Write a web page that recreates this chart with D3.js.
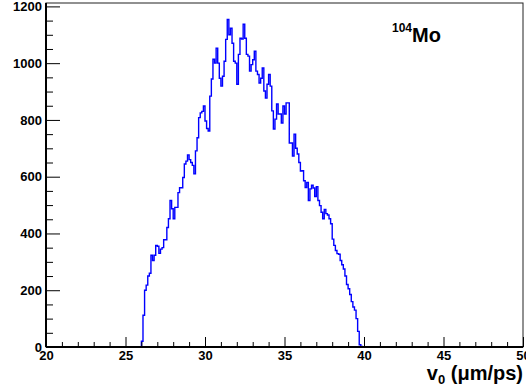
<!DOCTYPE html>
<html>
<head>
<meta charset="utf-8">
<script src="https://cdn.jsdelivr.net/npm/d3@7"></script>
<style>
  html, body { margin: 0; padding: 0; background: #fff; }
  svg { display: block; }
  text { font-family: "Liberation Sans", Arial, Helvetica, sans-serif; font-weight: bold; }
</style>
</head>
<body>
<script>
// ---- data ----
const xRange = [20, 50];
const yRange = [0, 1212];
const binStart = 26.0;      // low edge of first listed bin (µm/ps)
const binWidth = 0.1;       // bin width (µm/ps)
const counts = [
  20, 112, 200, 218, 250, 260, 323, 305, 323, 358,
  355, 330, 345, 350, 378, 378, 421, 452, 516, 487,
  452, 492, 492, 544, 561, 561, 597, 645, 655, 677,
  660, 650, 640, 610, 691, 737, 808, 825, 830, 849,
  796, 770, 761, 884, 944, 1014, 1000, 1053, 1000, 947,
  919, 954, 1007, 1084, 1154, 1100, 1123, 1070, 1007, 1000,
  926, 1031, 1088, 1085, 1137, 1088, 1031, 1025, 972, 995,
  1012, 1042, 972, 960, 930, 947, 983, 902, 877, 926,
  960, 919, 832, 768, 803, 856, 821, 821, 789, 849,
  821, 860, 860, 719, 719, 673, 750, 700, 680, 650,
  620, 621, 586, 562, 580, 516, 557, 570, 560, 530,
  565, 516, 498, 475, 452, 485, 470, 465, 452, 434,
  380, 358, 340, 329, 327, 305, 290, 275, 250, 220,
  205, 185, 160, 141, 130, 100, 55, 8, 2, 0
];
const xTicks = [20, 25, 30, 35, 40, 45, 50];
const yTicks = [0, 200, 400, 600, 800, 1000, 1200];
const xTitle = "v";
const xTitleSub = "0";
const xTitleRest = " (\u03bcm/ps)";
const labelSup = "104";
const labelMain = "Mo";

// ---- layout ----
const W = 526, H = 390;
const frame = { left: 46, right: 523, top: 3, bottom: 347 };

const svg = d3.select("body").append("svg").attr("width", W).attr("height", H);
svg.append("rect").attr("width", W).attr("height", H).attr("fill", "#fff");

const x = d3.scaleLinear().domain(xRange).range([frame.left, frame.right]);
const y = d3.scaleLinear().domain(yRange).range([frame.bottom, frame.top]);

// histogram points (step after)
const pts = [[xRange[0], 0]];
counts.forEach((c, i) => pts.push([binStart + i * binWidth, c]));
pts.push([binStart + counts.length * binWidth, 0]);
pts.push([xRange[1], 0]);

const line = d3.line()
  .x(d => x(d[0]))
  .y(d => y(d[1]))
  .curve(d3.curveStepAfter);

svg.append("path")
  .datum(pts)
  .attr("d", line)
  .attr("fill", "none")
  .attr("stroke", "#0000ff")
  .attr("stroke-width", 1.4);

// frame (top & right)
svg.append("rect")
  .attr("x", frame.left).attr("y", frame.top)
  .attr("width", frame.right - frame.left)
  .attr("height", frame.bottom - frame.top)
  .attr("fill", "none").attr("stroke", "#222").attr("stroke-width", 1);

// y axis minor ticks
const yMinor = d3.range(0, 1201, 50).filter(v => v % 200 !== 0);
const yAxisMinor = d3.axisLeft(y).tickValues(yMinor).tickSize(-7).tickFormat("");
const gyMin = svg.append("g").attr("transform", `translate(${frame.left},0)`).call(yAxisMinor);
gyMin.select(".domain").remove();

const yAxis = d3.axisLeft(y).tickValues(yTicks).tickSize(-14).tickPadding(4).tickFormat(d3.format("d"));
const gy = svg.append("g").attr("transform", `translate(${frame.left},0)`).call(yAxis);
gy.selectAll("text").attr("font-size", 13).attr("fill", "#000");

// x axis
const xMinor = d3.range(20, 50.1, 1).filter(v => v % 5 !== 0);
const xAxisMinor = d3.axisBottom(x).tickValues(xMinor).tickSize(-5).tickFormat("");
const gxMin = svg.append("g").attr("transform", `translate(0,${frame.bottom})`).call(xAxisMinor);
gxMin.select(".domain").remove();

const xAxis = d3.axisBottom(x).tickValues(xTicks).tickSize(-10).tickPadding(4).tickFormat(d3.format("d"));
const gx = svg.append("g").attr("transform", `translate(0,${frame.bottom})`).call(xAxis);
gx.selectAll("text").attr("font-size", 13).attr("fill", "#000");

[gy, gx, gyMin, gxMin].forEach(g => {
  g.selectAll(".tick line").attr("stroke", "#000").attr("stroke-width", 1);
  g.select(".domain").attr("stroke", "#000").attr("stroke-width", 2);
});
gy.select(".domain").attr("d", `M0,${frame.bottom}V${frame.top}`);
gx.select(".domain").attr("d", `M${frame.left},0H${frame.right}`);

// x title
const xt = svg.append("text")
  .attr("x", frame.right).attr("y", 380)
  .attr("text-anchor", "end")
  .attr("font-size", 20)
  .attr("fill", "#000");
xt.append("tspan").text(xTitle);
xt.append("tspan").attr("font-size", 13).attr("dy", 4).text(xTitleSub);
xt.append("tspan").attr("dy", -4).text(xTitleRest);

// annotation
const lab = svg.append("text")
  .attr("x", 392).attr("y", 42)
  .attr("font-size", 20)
  .attr("fill", "#000");
lab.append("tspan").attr("font-size", 12).attr("dy", -10).text(labelSup);
lab.append("tspan").attr("dy", 10).text(labelMain);
</script>
</body>
</html>
